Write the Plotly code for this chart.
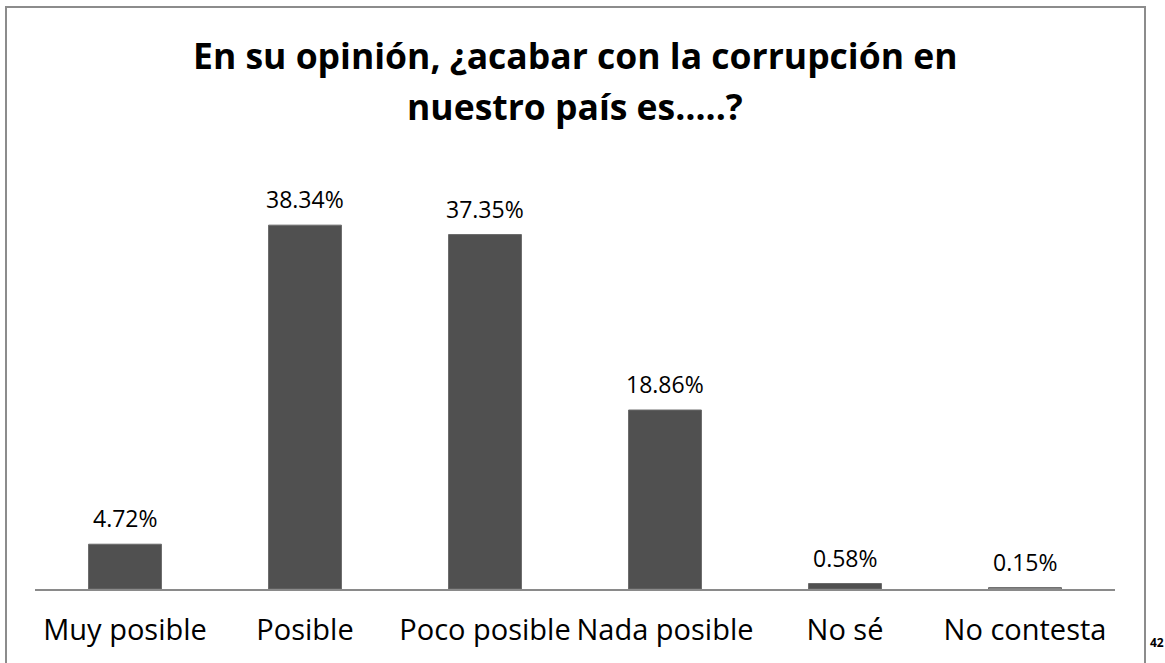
import plotly.graph_objects as go

# survey answers and shares (%)
categories = ["Muy posible", "Posible", "Poco posible", "Nada posible", "No sé", "No contesta"]
values = [4.72, 38.34, 37.35, 18.86, 0.58, 0.15]
labels = ["4.72%", "38.34%", "37.35%", "18.86%", "0.58%", "0.15%"]
bar_colors = ["#505050", "#505050", "#505050", "#505050", "#505050", "#a3a3a3"]
title_lines = ["En su opinión, ¿acabar con la corrupción en", "nuestro país es…..?"]

W, H = 1165, 663
L, R, T, B = 35, 1165 - 1115, 190, 663 - 589
pw = W - L - R
ph = H - T - B


def px(x):
    # reference pixel x -> paper coordinate
    return (x - L) / pw


def py(y):
    return (H - B - y) / ph


FONT = "Open Sans, Lato, sans-serif"

fig = go.Figure()
fig.add_trace(go.Bar(
    x=categories, y=values,
    marker=dict(color=bar_colors, line=dict(color="#6a6a6a", width=1)),
    width=0.405,
))

# value labels above the bars
for c, v, t in zip(categories, values, labels):
    fig.add_annotation(x=c, y=v, text=t, showarrow=False, xanchor="center",
                       yanchor="bottom", yshift=8, font=dict(size=23, color="#000000"))

fig.update_layout(
    width=W, height=H,
    margin=dict(l=L, r=R, t=T, b=B, autoexpand=False),
    paper_bgcolor="white", plot_bgcolor="white",
    font=dict(family=FONT, color="#000000"),
    showlegend=False,
    xaxis=dict(showline=True, linecolor="#8a8a8a", linewidth=2,
               tickfont=dict(size=29), tickangle=0, automargin=False,
               ticks="outside", ticklen=14,
               tickcolor="rgba(0,0,0,0)", showgrid=False),
    yaxis=dict(range=[0, ph / 9.49], visible=False, showgrid=False),
)

# chart border
fig.add_shape(type="rect", xref="paper", yref="paper",
              x0=px(6), x1=px(1145), y0=py(700), y1=py(7),
              line=dict(color="#8c8c8c", width=2), fillcolor="rgba(0,0,0,0)")

# title, two centered lines
fig.add_annotation(text="<b>%s</b>" % title_lines[0], xref="paper", yref="paper",
                   x=px(575), y=py(55), showarrow=False, xanchor="center", yanchor="middle",
                   font=dict(size=35.5))
fig.add_annotation(text="<b>%s</b>" % title_lines[1], xref="paper", yref="paper",
                   x=px(575), y=py(106), showarrow=False, xanchor="center", yanchor="middle",
                   font=dict(size=35.5))

# page number
fig.add_annotation(text="<b>42</b>", xref="paper", yref="paper",
                   x=px(1148), y=py(642), showarrow=False, xanchor="left", yanchor="middle",
                   font=dict(size=12))

# drop the default body margin so the figure sits at the page's corner
fig.write_html("out.html", config={"displayModeBar": False},
               post_script="document.body.style.margin='0';")
